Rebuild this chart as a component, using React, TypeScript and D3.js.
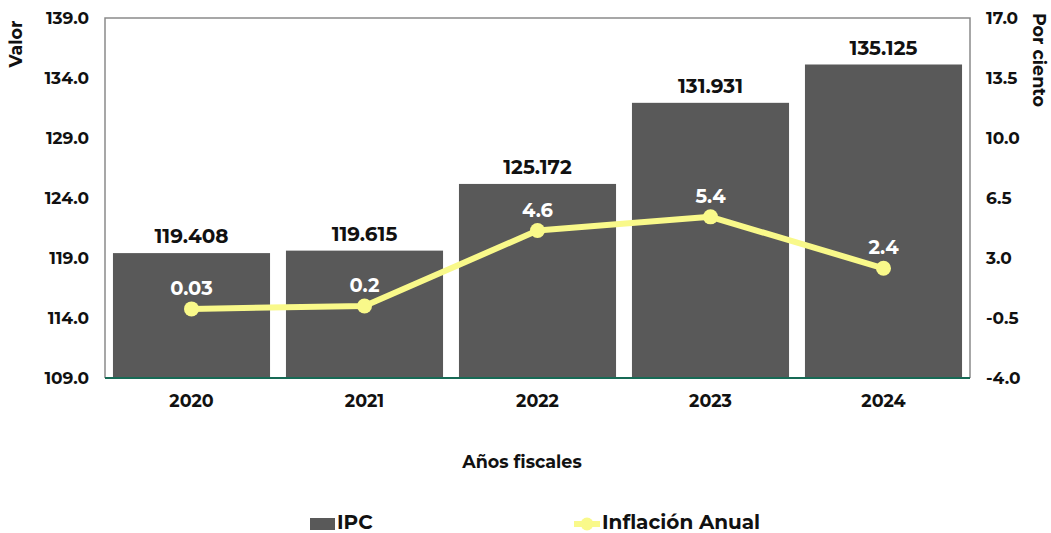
import React from "react";
import * as d3 from "d3";

const years = ["2020", "2021", "2022", "2023", "2024"];
const ipc = [119.408, 119.615, 125.172, 131.931, 135.125];
const inflacion = [0.03, 0.2, 4.6, 5.4, 2.4];
const ipcLabels = ["119.408", "119.615", "125.172", "131.931", "135.125"];
const inflLabels = ["0.03", "0.2", "4.6", "5.4", "2.4"];
const leftTicks = [109, 114, 119, 124, 129, 134, 139];
const rightTicks = [-4, -0.5, 3, 6.5, 10, 13.5, 17];

const W = 1051, H = 533;
const m = { left: 105, right: 970, top: 18, bottom: 378 };
const FONT = "Montserrat, 'DejaVu Sans', sans-serif";
const BAR = "#595959";
const LINE = "#f9f98a";

export default function App() {
  const x = d3.scaleBand().domain(years).range([m.left, m.right]).paddingInner(0.092).paddingOuter(0.046);
  const yL = d3.scaleLinear().domain([109, 139]).range([m.bottom, m.top]);
  const yR = d3.scaleLinear().domain([-4, 17]).range([m.bottom, m.top]);
  const cx = (d: string) => (x(d) as number) + x.bandwidth() / 2;
  const line = d3.line<number>().x((_, i) => cx(years[i])).y((d) => yR(d));

  return (
    <svg width={W} height={H} style={{ position: "absolute", left: 0, top: 0, background: "#fff" }} fontFamily={FONT} fontWeight={700}>
      <path d={`M${m.left},${m.bottom}V${m.top}H${m.right}V${m.bottom}`} fill="none" stroke="#8a8a8a" strokeWidth={1.5} />
      {years.map((y, i) => (
        <rect key={y} x={x(y)} y={yL(ipc[i])} width={x.bandwidth()} height={m.bottom - yL(ipc[i])} fill={BAR} />
      ))}
      <line x1={m.left} x2={m.right} y1={m.bottom} y2={m.bottom} stroke="#176a55" strokeWidth={2} />
      {years.map((y, i) => (
        <text key={y} x={cx(y)} y={yL(ipc[i]) - 10} textAnchor="middle" fontSize={20} fill="#111">{ipcLabels[i]}</text>
      ))}
      <path d={line(inflacion) || ""} fill="none" stroke={LINE} strokeWidth={6} strokeLinejoin="round" />
      {years.map((y, i) => (
        <circle key={y} cx={cx(y)} cy={yR(inflacion[i])} r={7.5} fill={LINE} />
      ))}
      {years.map((y, i) => (
        <text key={y} x={cx(y)} y={yR(inflacion[i]) - 14} textAnchor="middle" fontSize={19.5} fill="#fff">{inflLabels[i]}</text>
      ))}
      {leftTicks.map((t) => (
        <text key={t} x={89} y={yL(t) + 6} textAnchor="end" fontSize={17} fill="#111">{t.toFixed(1)}</text>
      ))}
      {rightTicks.map((t) => (
        <text key={t} x={986} y={yR(t) + 6} textAnchor="start" fontSize={17} fill="#111">{t.toFixed(1)}</text>
      ))}
      {years.map((y) => (
        <text key={y} x={cx(y)} y={407} textAnchor="middle" fontSize={17.5} fill="#111">{y}</text>
      ))}
      <text transform={`translate(22,44) rotate(-90)`} textAnchor="middle" fontSize={17.5} fill="#111">Valor</text>
      <text transform={`translate(1033,60) rotate(90)`} textAnchor="middle" fontSize={17.5} fill="#111">Por ciento</text>
      <text x={522} y={468} textAnchor="middle" fontSize={17.5} fill="#111">Años fiscales</text>
      <rect x={310} y={518} width={25} height={12} fill={BAR} />
      <text x={337} y={529} fontSize={20} fill="#111">IPC</text>
      <line x1={574} x2={600} y1={524} y2={524} stroke={LINE} strokeWidth={6} />
      <circle cx={587} cy={524} r={6.5} fill={LINE} />
      <text x={602} y={529} fontSize={20} fill="#111">Inflación Anual</text>
    </svg>
  );
}
